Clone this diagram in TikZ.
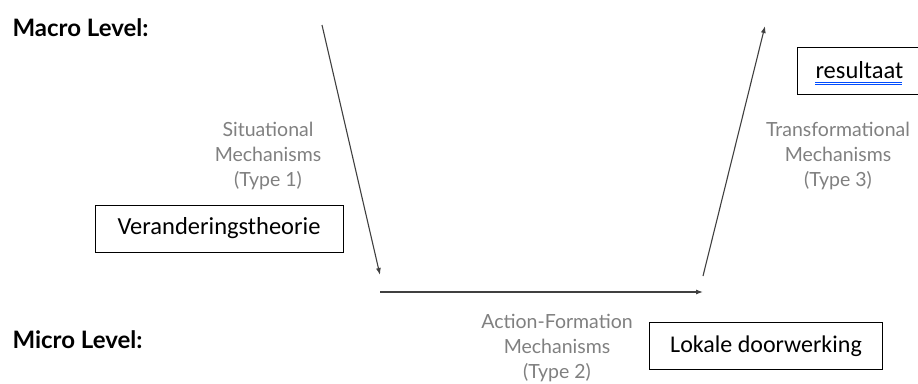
\documentclass[tikz,border=0pt]{standalone}
\usepackage{fontspec}
\setmainfont{Carlito}
\newfontfamily\mechfont{Lato}
\usetikzlibrary{arrows.meta,positioning}

\begin{document}
\begin{tikzpicture}[x=1pt,y=-1pt,
    level/.style={font=\mechfont\bfseries\fontsize{24}{28}\selectfont, anchor=west},
    mech/.style={font=\mechfont\fontsize{19.5}{25}\selectfont, text=black!50, align=center},
    box/.style={draw, line width=1pt, minimum height=47pt, font=\fontsize{24.5}{28}\selectfont},
    arr/.style={-{Latex[length=7pt,width=5pt]}, line width=1.1pt, draw=black!75}]
    \useasboundingbox (0,0) rectangle (918,383);
    % levels
    \node[level] (macro) at (9,28) {Macro Level:};
    \node[level] (micro) at (9,340) {Micro Level:};
    % arrow ends
    \coordinate (sitTop) at (322,25);
    \coordinate (sitEnd) at (380,275);
    \coordinate (actStart) at (380,292);
    \coordinate (actEnd) at (703,292);
    \coordinate (trStart) at (703,276);
    \coordinate (trEnd) at (765,26);
    \draw[arr] (sitTop) -- (sitEnd);
    \draw[arr] (actStart) -- (actEnd);
    \draw[arr] (trStart) -- (trEnd);
    % mechanisms
    \node[mech] (sit) at (268,156) {Situational\\Mechanisms\\(Type 1)};
    \node[mech] (act) at (557,348) {Action-Formation\\Mechanisms\\(Type 2)};
    \node[mech] (tr) at (838,156) {Transformational\\Mechanisms\\(Type 3)};
    % boxes
    \node[box, minimum width=248pt] (theory) at (219,228.5) {Veranderingstheorie};
    \node[box, minimum width=233pt, font=\fontsize{24}{28}\selectfont] (local) at (766,346) {Lokale doorwerking};
    \node[box, anchor=west, inner xsep=18pt, text width=94pt, align=left] (result) at (797,70.5) {resultaat};
    \draw[blue!70!cyan, line width=0.7pt] ([shift={(18,11.5)}]result.west) -- ([shift={(105,11.5)}]result.west);
    \draw[blue!70!cyan, line width=0.7pt] ([shift={(18,14)}]result.west) -- ([shift={(105,14)}]result.west);
\end{tikzpicture}
\end{document}
